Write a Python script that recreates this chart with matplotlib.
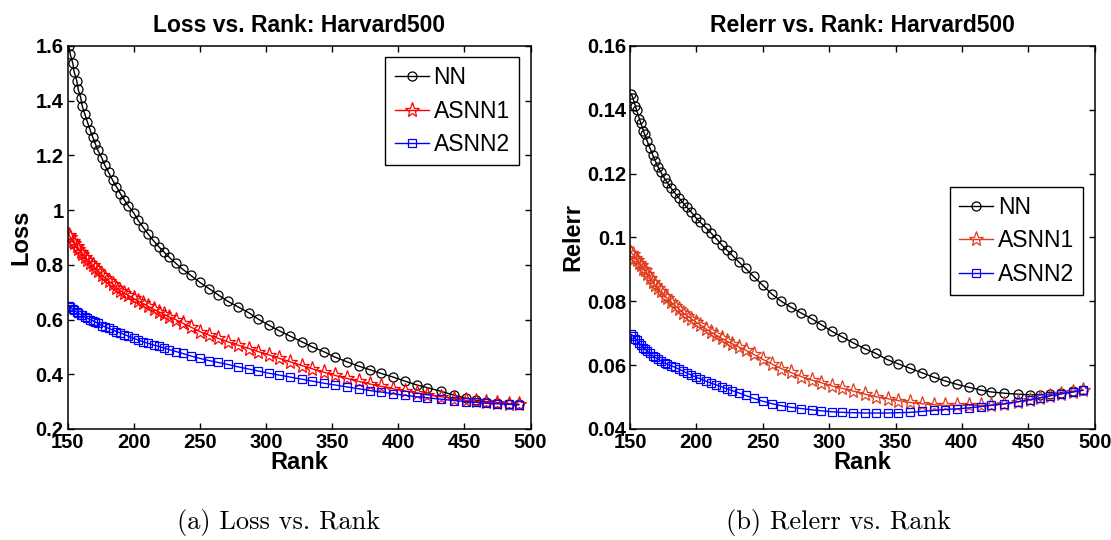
import matplotlib
matplotlib.use("Agg")
from matplotlib import pyplot as plt
from matplotlib.ticker import FormatStrFormatter

rank = [151, 152, 154, 155, 157, 158, 160, 161, 163, 165, 167, 169, 171, 173, 176, 178,
        181, 184, 187, 190, 193, 196, 200, 203, 207, 211, 215, 219, 223, 227, 232, 237,
        243, 250, 257, 264, 271, 279, 287, 294, 302, 310, 318, 327, 335, 344, 352, 361,
        370, 379, 387, 396, 405, 414, 422, 432, 442, 451, 459, 466, 475, 484, 491]

loss_nn = [1.600, 1.570, 1.536, 1.505, 1.472, 1.442, 1.410, 1.382, 1.352, 1.322, 1.294,
           1.267, 1.242, 1.218, 1.190, 1.166, 1.138, 1.110, 1.085, 1.060, 1.037, 1.015,
           0.990, 0.965, 0.938, 0.912, 0.888, 0.866, 0.846, 0.827, 0.805, 0.784, 0.762,
           0.736, 0.713, 0.690, 0.667, 0.646, 0.625, 0.602, 0.580, 0.559, 0.540, 0.519,
           0.500, 0.482, 0.463, 0.446, 0.430, 0.416, 0.403, 0.390, 0.375, 0.361, 0.351,
           0.338, 0.324, 0.313, 0.305, 0.300, 0.296, 0.292, 0.290]
loss_asnn1 = [0.909, 0.902, 0.888, 0.881, 0.867, 0.859, 0.847, 0.841, 0.830, 0.819, 0.808,
              0.798, 0.788, 0.777, 0.762, 0.753, 0.741, 0.729, 0.716, 0.705, 0.696, 0.688,
              0.677, 0.669, 0.659, 0.648, 0.638, 0.628, 0.619, 0.610, 0.599, 0.587, 0.573,
              0.556, 0.543, 0.531, 0.519, 0.506, 0.494, 0.483, 0.471, 0.458, 0.446, 0.432,
              0.420, 0.407, 0.396, 0.385, 0.374, 0.364, 0.356, 0.347, 0.339, 0.332, 0.325,
              0.318, 0.311, 0.305, 0.301, 0.298, 0.295, 0.292, 0.290]
loss_asnn2 = [0.650, 0.646, 0.638, 0.634, 0.627, 0.623, 0.618, 0.615, 0.610, 0.605, 0.600,
              0.596, 0.591, 0.586, 0.578, 0.574, 0.568, 0.562, 0.556, 0.551, 0.545, 0.539,
              0.531, 0.526, 0.519, 0.513, 0.507, 0.502, 0.496, 0.490, 0.483, 0.476, 0.467,
              0.458, 0.450, 0.443, 0.436, 0.427, 0.419, 0.412, 0.404, 0.397, 0.390, 0.382,
              0.375, 0.367, 0.361, 0.354, 0.347, 0.340, 0.335, 0.329, 0.323, 0.318, 0.314,
              0.309, 0.304, 0.300, 0.297, 0.294, 0.292, 0.290, 0.288]

relerr_nn = [0.1450, 0.1438, 0.1412, 0.1398, 0.1372, 0.1360, 0.1335, 0.1323, 0.1301, 0.1280,
             0.1259, 0.1240, 0.1222, 0.1206, 0.1185, 0.1172, 0.1154, 0.1138, 0.1123, 0.1108,
             0.1094, 0.1080, 0.1060, 0.1047, 0.1031, 0.1014, 0.0996, 0.0977, 0.0960, 0.0944,
             0.0923, 0.0903, 0.0878, 0.0850, 0.0822, 0.0800, 0.0782, 0.0763, 0.0745, 0.0727,
             0.0706, 0.0688, 0.0670, 0.0651, 0.0637, 0.0617, 0.0604, 0.0590, 0.0576, 0.0562,
             0.0551, 0.0540, 0.0531, 0.0522, 0.0516, 0.0512, 0.0509, 0.0507, 0.0507, 0.0509,
             0.0514, 0.0518, 0.0522]
relerr_asnn1 = [0.0952, 0.0947, 0.0936, 0.0930, 0.0919, 0.0913, 0.0902, 0.0897, 0.0886, 0.0874,
                0.0862, 0.0851, 0.0841, 0.0831, 0.0818, 0.0809, 0.0797, 0.0786, 0.0775, 0.0764,
                0.0755, 0.0746, 0.0734, 0.0726, 0.0714, 0.0704, 0.0694, 0.0684, 0.0675, 0.0667,
                0.0657, 0.0647, 0.0634, 0.0618, 0.0603, 0.0589, 0.0577, 0.0564, 0.0553, 0.0545,
                0.0535, 0.0527, 0.0519, 0.0509, 0.0501, 0.0495, 0.0489, 0.0483, 0.0479, 0.0476,
                0.0474, 0.0474, 0.0474, 0.0474, 0.0475, 0.0478, 0.0485, 0.0490, 0.0497, 0.0503,
                0.0511, 0.0517, 0.0522]
relerr_asnn2 = [0.0696, 0.0692, 0.0683, 0.0678, 0.0668, 0.0663, 0.0655, 0.0651, 0.0644, 0.0637,
                0.0630, 0.0624, 0.0619, 0.0614, 0.0607, 0.0603, 0.0598, 0.0593, 0.0587, 0.0581,
                0.0575, 0.0569, 0.0562, 0.0557, 0.0550, 0.0544, 0.0538, 0.0532, 0.0526, 0.0520,
                0.0513, 0.0505, 0.0496, 0.0487, 0.0479, 0.0473, 0.0468, 0.0464, 0.0460, 0.0457,
                0.0454, 0.0452, 0.0451, 0.0450, 0.0450, 0.0450, 0.0451, 0.0452, 0.0455, 0.0458,
                0.0461, 0.0463, 0.0466, 0.0470, 0.0474, 0.0479, 0.0485, 0.0492, 0.0498, 0.0504,
                0.0510, 0.0516, 0.0521]

methods = ["NN", "ASNN1", "ASNN2"]
rank_ticks = [150, 200, 250, 300, 350, 400, 450, 500]
loss_ticks = [0.2, 0.4, 0.6, 0.8, 1.0, 1.2, 1.4, 1.6]
relerr_ticks = [0.04, 0.06, 0.08, 0.10, 0.12, 0.14, 0.16]

plt.rcParams["font.family"] = ["Liberation Sans", "DejaVu Sans"]
plt.rcParams["font.weight"] = "bold"

markers = [("o", 6.5), ("*", 11), ("s", 5.5)]


def draw_panel(ax, series, colors, title, ylabel, yticks, legend_anchor):
    for ys, name, c, (m, ms) in zip(series, methods, colors, markers):
        ax.plot(rank, ys, color=c, lw=1.0, marker=m, ms=ms, mfc="none",
                mec=c, mew=0.9, label=name)
    ax.set_xlim(150, 500)
    ax.set_ylim(yticks[0], yticks[-1])
    ax.set_xticks(rank_ticks)
    ax.set_yticks(yticks)
    ax.yaxis.set_major_formatter(FormatStrFormatter("%g"))
    ax.tick_params(direction="in", length=4, width=1, top=True, right=True,
                   labelsize=14.5, pad=3)
    for sp in ax.spines.values():
        sp.set_linewidth(1.1)
    ax.set_title(title, fontsize=16.5, fontweight="bold", pad=10)
    ax.set_xlabel("Rank", fontsize=17, fontweight="bold", labelpad=-1)
    ax.set_ylabel(ylabel, fontsize=17, fontweight="bold", labelpad=2)
    leg = ax.legend(loc="upper right", bbox_to_anchor=legend_anchor, borderaxespad=0,
                    prop={"size": 16.5, "weight": "normal"}, numpoints=1,
                    handlelength=1.5, handletextpad=0.2, labelspacing=0.45,
                    borderpad=0.4, fancybox=False, framealpha=1)
    leg.get_frame().set_edgecolor("black")
    leg.get_frame().set_linewidth(1.0)


fig = plt.figure(figsize=(11.11, 5.4), dpi=100)
ax1 = fig.add_axes([0.0608, 0.2056, 0.4167, 0.7093])
ax2 = fig.add_axes([0.5671, 0.2056, 0.4182, 0.7093])

draw_panel(ax1, [loss_nn, loss_asnn1, loss_asnn2], ["black", "red", "blue"],
           "Loss vs. Rank: Harvard500", "Loss", loss_ticks, (0.975, 0.971))
draw_panel(ax2, [relerr_nn, relerr_asnn1, relerr_asnn2], ["black", "#E03C1E", "blue"],
           "Relerr vs. Rank: Harvard500", "Relerr", relerr_ticks, (0.975, 0.632))

fig.text(279 / 1111, 1 - 522 / 540, "(a) Loss vs. Rank", family="cmr10",
         fontweight="normal", fontsize=19, ha="center", va="center")
fig.text(839 / 1111, 1 - 522 / 540, "(b) Relerr vs. Rank", family="cmr10",
         fontweight="normal", fontsize=19, ha="center", va="center")

fig.savefig("out.png", dpi=100)
